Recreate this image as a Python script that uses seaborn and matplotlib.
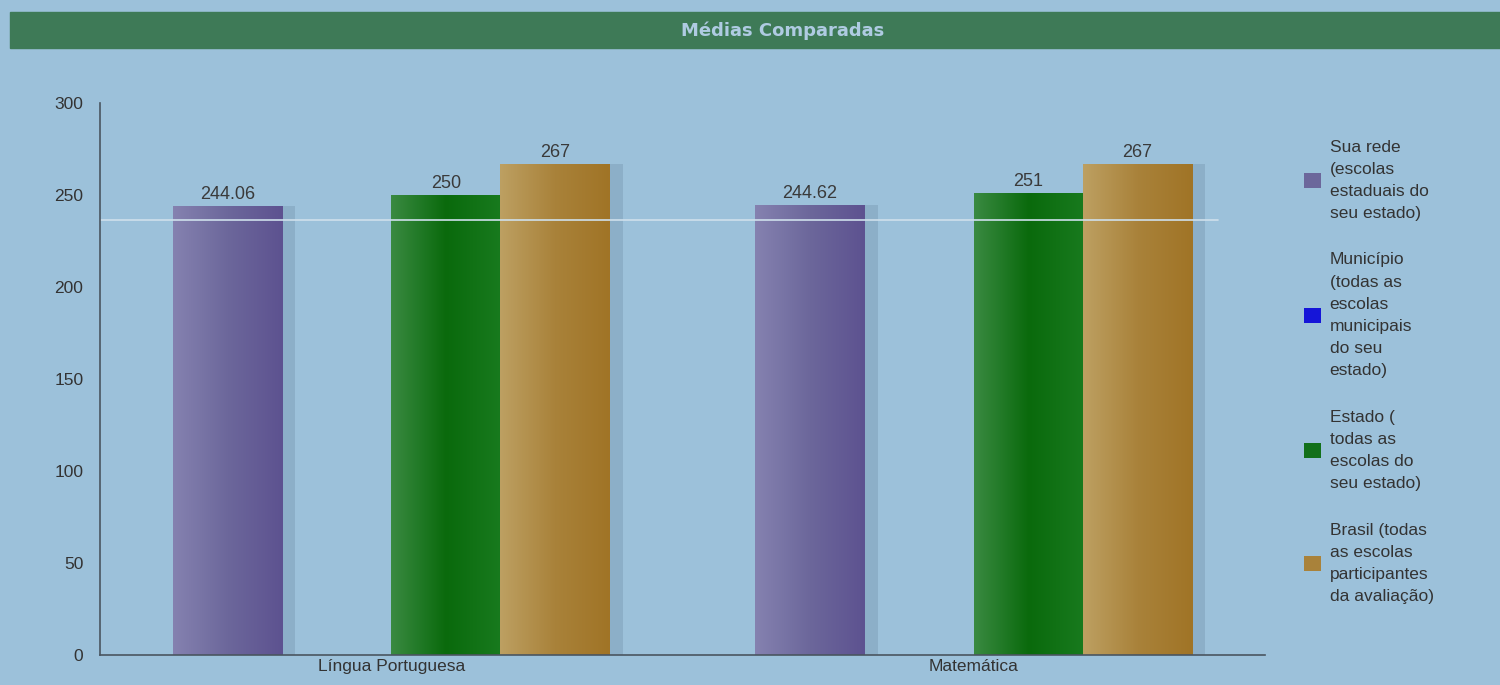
import numpy as np
import pandas as pd
import seaborn as sns
import matplotlib.pyplot as plt
from matplotlib.colors import LinearSegmentedColormap
from matplotlib.patches import Patch, Rectangle

sns.set_style("white")
plt.rcParams["font.family"] = ["Liberation Sans", "DejaVu Sans"]

subjects = ["Língua Portuguesa", "Matemática"]
groups = ["Sua rede", "Município", "Estado", "Brasil"]
legend_labels = [
    "Sua rede\n(escolas\nestaduais do\nseu estado)",
    "Município\n(todas as\nescolas\nmunicipais\ndo seu\nestado)",
    "Estado (\ntodas as\nescolas do\nseu estado)",
    "Brasil (todas\nas escolas\nparticipantes\nda avaliação)",
]
sua_rede = [244.06, 244.62]
municipio = [np.nan, np.nan]
estado = [250, 251]
brasil = [267, 267]
colors = ["#6C679B", "#1515D8", "#12701A", "#A9823A"]
# light -> base -> dark shading across each bar
shades = [
    ["#8582B0", "#6C679B", "#5D5290"],
    ["#3030E0", "#1515D8", "#0A0AB0"],
    ["#3A8A42", "#0A6A0C", "#187A1E"],
    ["#BDA062", "#A9823A", "#A07426"],
]
bg = "#9CC1DA"

df = pd.DataFrame({
    "Disciplina": subjects * 4,
    "Grupo": [g for g in groups for _ in subjects],
    "Media": sua_rede + municipio + estado + brasil,
})

fig = plt.figure(figsize=(15, 6.85), dpi=100, facecolor=bg)
ax = fig.add_axes([0.0667, 0.0438, 0.7766, 0.8058])
ax.set_facecolor(bg)

sns.barplot(data=df, x="Disciplina", y="Media", hue="Grupo", hue_order=groups,
            order=subjects, palette=colors, width=0.75, ax=ax, legend=False,
            errorbar=None, saturation=1, linewidth=0)

ax.set_ylim(0, 300)
ax.set_xlim(-0.5, 1.5)

grad = np.linspace(0, 1, 256).reshape(1, -1)
for cont, sh in zip(ax.containers, shades):
    cmap = LinearSegmentedColormap.from_list("bar", sh)
    for b in cont:
        h = b.get_height()
        if np.isnan(h):
            continue
        x0 = b.get_x()
        w = b.get_width()
        # soft shadow on the right
        ax.add_patch(Rectangle((x0 + w, 0), w * 0.12, h, color="#6f8fa8",
                               alpha=0.35, lw=0, zorder=1))
        im = ax.imshow(grad, cmap=cmap, aspect="auto", extent=(x0, x0 + w, 0, h),
                       zorder=2)
        im.set_clip_path(b)
    labels = ["" if np.isnan(b.get_height()) else f"{b.get_height():g}" for b in cont]
    ax.bar_label(cont, labels=labels, padding=2, fontsize=13, color="#3a3a3a")

ax.set_ylim(0, 300)
ax.set_xlim(-0.5, 1.5)

# light stripe that crosses the bars in the original
ax.axhline(236.5, xmin=0, xmax=0.96, color="#cfe0ec", lw=1.2, zorder=5)

ax.set_yticks(range(0, 301, 50))
ax.set_xlabel("")
ax.set_ylabel("")
ax.tick_params(axis="both", length=0, labelsize=12.5, colors="#333333")
ax.tick_params(axis="x", pad=3)
ax.tick_params(axis="y", pad=12)
for s in ["top", "right"]:
    ax.spines[s].set_visible(False)
for s in ["left", "bottom"]:
    ax.spines[s].set_color("#4a5560")
    ax.spines[s].set_linewidth(1.2)
    ax.spines[s].set_zorder(6)

# title bar
fig.patches.append(Rectangle((10 / 1500, 1 - 48 / 685), 1, 36 / 685,
                             transform=fig.transFigure, color="#3E7A57", zorder=0))
fig.text(0.522, 1 - 31 / 685, "Médias Comparadas", ha="center", va="center",
         fontsize=13, fontweight="bold", color="#AFCBE2", family="DejaVu Sans")

handles = [Patch(facecolor=c, edgecolor="none") for c in colors]
leg = fig.legend(handles, legend_labels, loc="upper left",
                 bbox_to_anchor=(1288 / 1500, 1 - 124 / 685), frameon=False,
                 fontsize=12.5, labelcolor="#333333", handlelength=1.0,
                 handleheight=1.0, handletextpad=0.5, labelspacing=1.8)
for t in leg.get_texts():
    t.set_linespacing(1.6)

fig.savefig("out.png", dpi=100, facecolor=bg)
